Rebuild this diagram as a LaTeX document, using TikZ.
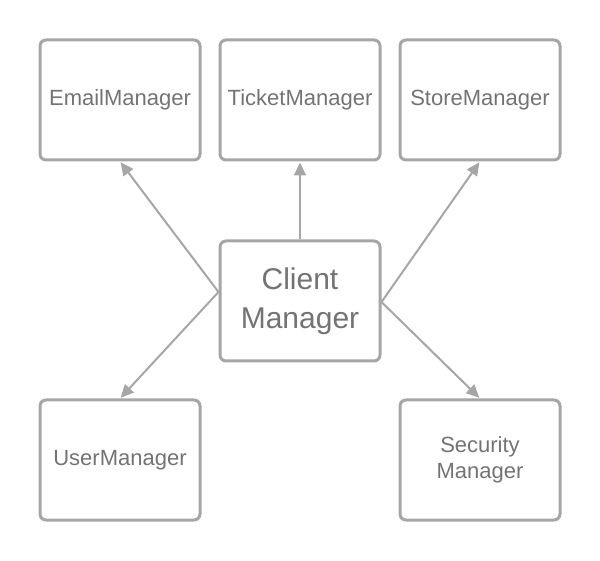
\documentclass[tikz,border=0pt]{standalone}
\usepackage{fontspec}
\setmainfont{Liberation Sans}
\usetikzlibrary{arrows.meta}
\definecolor{boxgray}{HTML}{A6A6A6}
\definecolor{txtgray}{HTML}{737373}
\tikzset{
  mgr/.style={draw=boxgray, line width=3pt, rounded corners=6pt, minimum width=160pt, minimum height=120pt,
    inner sep=0pt, align=center, text=txtgray, font=\fontsize{22pt}{26pt}\selectfont},
  conn/.style={draw=boxgray, line width=2pt, -{Triangle[length=13pt,width=12pt]}, shorten >=1pt}
}
\begin{document}
\begin{tikzpicture}[x=1pt,y=1pt]
\useasboundingbox (0,0) rectangle (600,560);
\node[mgr] (email) at (120,460) {EmailManager};
\node[mgr] (ticket) at (300,460) {TicketManager};
\node[mgr] (store) at (480,460) {StoreManager};
\node[mgr, font=\fontsize{30pt}{39pt}\selectfont] (client) at (300,259) {Client\\Manager};
\node[mgr] (user) at (120,100) {UserManager};
\node[mgr] (security) at (480,100) {Security\\Manager};
\coordinate (cl) at ([yshift=9pt]client.west);
\coordinate (cr) at ([yshift=-1pt]client.east);
\draw[conn] (cl) -- (email.south);
\draw[conn] (client.north) -- (ticket.south);
\draw[conn] (cr) -- (store.south);
\draw[conn] (cl) -- (user.north);
\draw[conn] (cr) -- (security.north);
\end{tikzpicture}
\end{document}
